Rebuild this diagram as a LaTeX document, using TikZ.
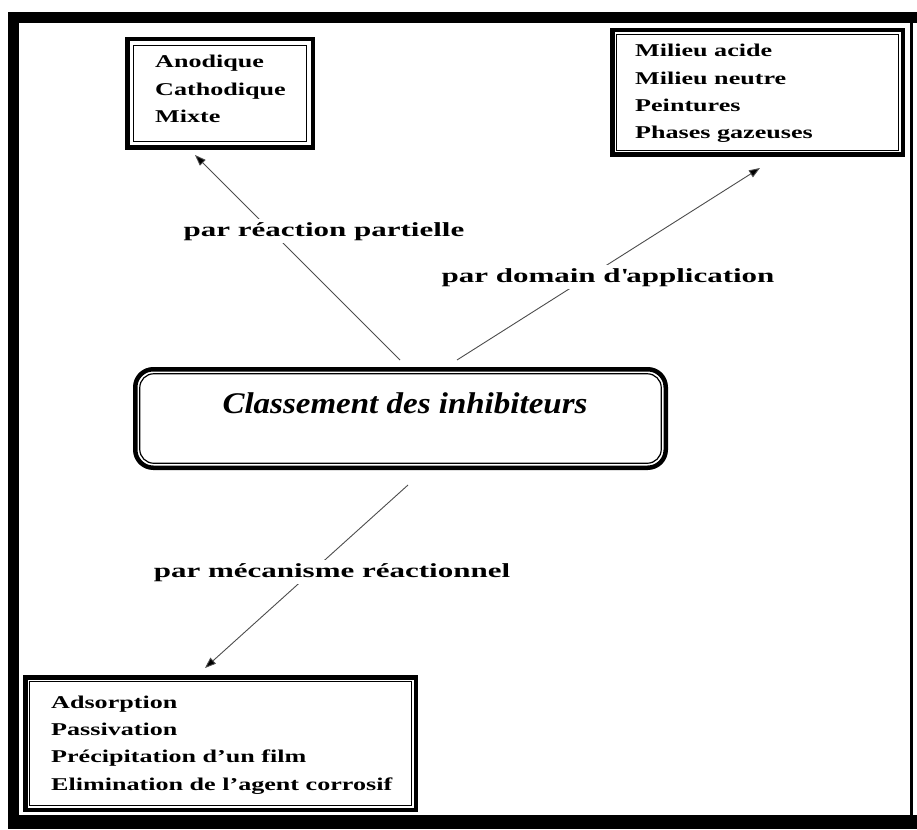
\documentclass[tikz,border=0pt]{standalone}
\usepackage{fontspec}
\setmainfont{Liberation Serif}
\newfontfamily\listfont[FakeStretch=1.45]{Liberation Serif}
\newfontfamily\labfont[FakeStretch=1.55]{Liberation Serif}
\newfontfamily\titfont[FakeStretch=1.1]{Liberation Serif}
\usetikzlibrary{calc,arrows.meta}
\begin{document}
\begin{tikzpicture}[x=1pt,y=-1pt,
  boxline/.style={draw=black, line width=4.5pt, fill=white, inner sep=0pt, outer sep=0pt},
  thinline/.style={draw=black, line width=1.2pt},
  listtext/.style={anchor=base west, inner sep=0pt, font=\listfont\bfseries\fontsize{18}{22}\selectfont},
  lab/.style={fill=white, inner sep=3pt, anchor=base, font=\labfont\bfseries\fontsize{20}{24}\selectfont},
  conn/.style={draw=black!70, line width=0.9pt, -{Triangle[length=11pt,width=8pt,fill=black]}},
]
\useasboundingbox (0,0) rectangle (917,829);
% outer frame
\fill[black] (8,12) rectangle (917,23);
\fill[black] (8,12) rectangle (19,829);
\fill[black] (8,815) rectangle (917,829);
\fill[black] (910,12) rectangle (913,829);

% boxes
\node[boxline, minimum width=185.5pt, minimum height=108.5pt] (anodbox) at (220,93.5) {};
\draw[thinline] ($(anodbox.north west)+(6.5,6.5)$) rectangle ($(anodbox.south east)+(-6.5,-6.5)$);

\node[boxline, minimum width=290.5pt, minimum height=124.5pt] (milbox) at (757.5,92.5) {};
\draw[thinline] ($(milbox.north west)+(4.5,4.5)$) rectangle ($(milbox.south east)+(-4.5,-4.5)$);

\node[boxline, rounded corners=18pt, minimum width=530.5pt, minimum height=98.5pt] (centre) at (400.5,418.5) {};
\draw[thinline, rounded corners=14pt] ($(centre.north west)+(4.5,4.5)$) rectangle ($(centre.south east)+(-4.5,-4.5)$);

\node[boxline, minimum width=390.5pt, minimum height=132.5pt] (botbox) at (220.5,743.5) {};
\draw[thinline] ($(botbox.north west)+(4.5,4.5)$) rectangle ($(botbox.south east)+(-4.5,-4.5)$);

% texts
\node[anchor=base, inner sep=0pt, font=\titfont\bfseries\itshape\fontsize{30}{36}\selectfont] (title) at (405,413) {Classement des inhibiteurs};

\node[listtext] (an1) at (155,68) {Anodique};
\node[listtext] (an2) at (155,96) {Cathodique};
\node[listtext] (an3) at (155,123) {Mixte};

\node[listtext] (mi1) at (635,57) {Milieu acide};
\node[listtext] (mi2) at (635,85) {Milieu neutre};
\node[listtext] (mi3) at (635,112) {Peintures};
\node[listtext] (mi4) at (635,139) {Phases gazeuses};

\node[listtext] (bo1) at (51,708) {Adsorption};
\node[listtext] (bo2) at (51,735) {Passivation};
\node[listtext] (bo3) at (51,762) {Précipitation d’un film};
\node[listtext] (bo4) at (51,790) {Elimination de l’agent corrosif};

% connectors
\coordinate (s1) at (400,360); \coordinate (e1) at (195,155);
\coordinate (s2) at (457,360); \coordinate (e2) at (760,168);
\coordinate (s3) at (408,485); \coordinate (e3) at (205,668);
\draw[conn] (s1) -- (e1);
\draw[conn] (s2) -- (e2);
\draw[conn] (s3) -- (e3);

% labels
\node[lab] (l1) at (324,236) {par réaction partielle};
\node[lab] (l2) at (608,282) {par domain d\textquotesingle application};
\node[lab] (l3) at (332,577) {par mécanisme réactionnel};
\end{tikzpicture}
\end{document}
